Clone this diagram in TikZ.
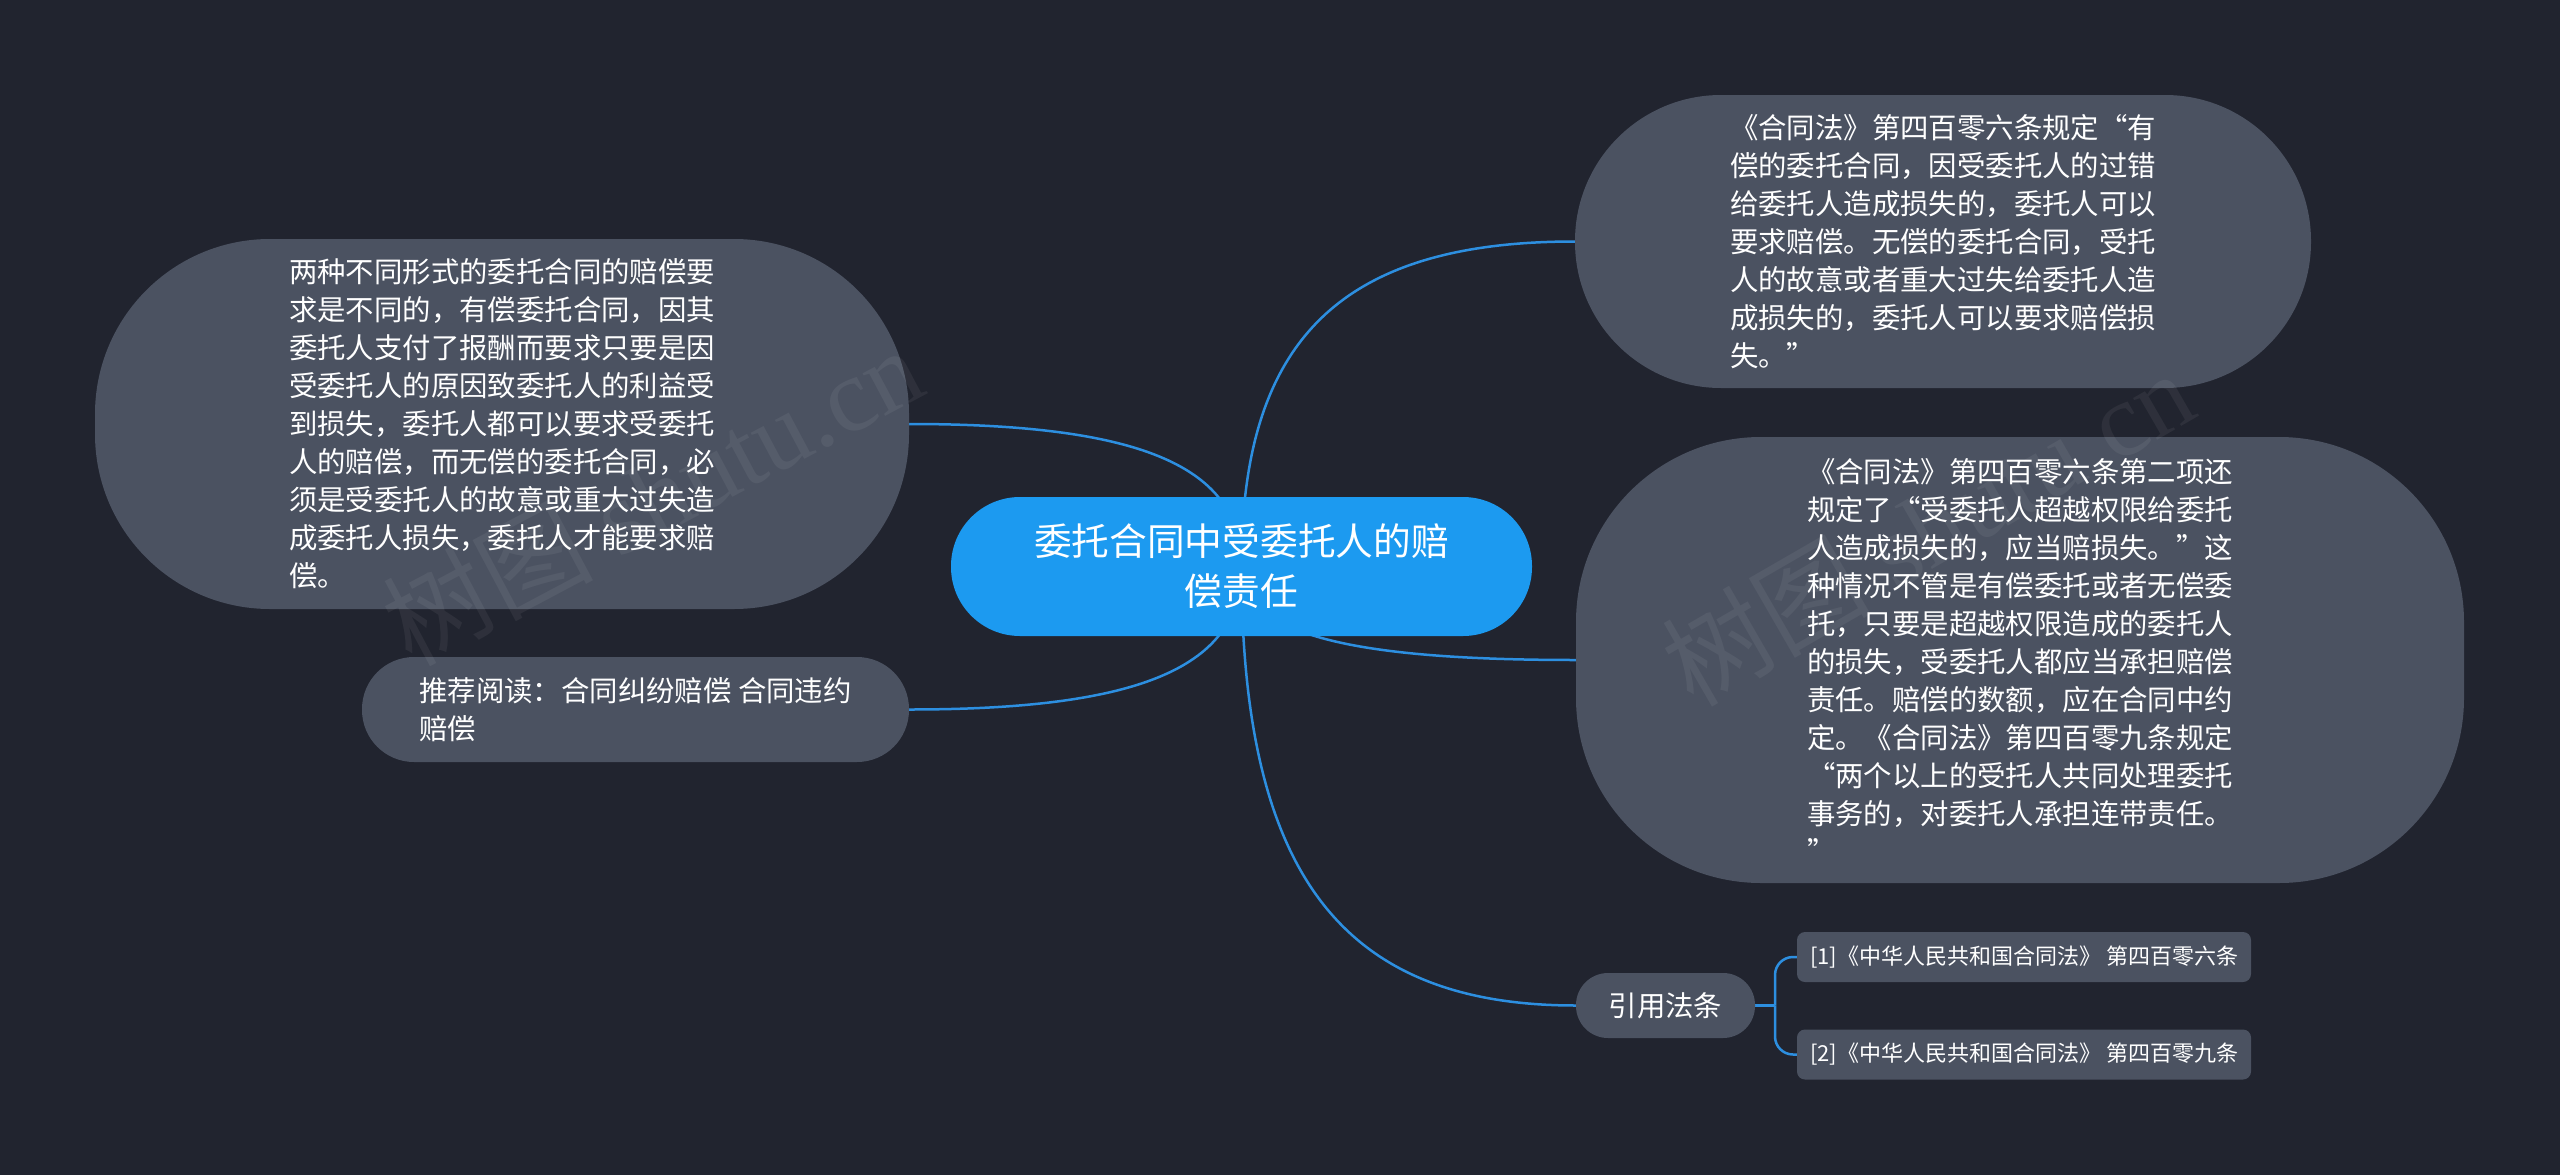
\documentclass[tikz,border=0pt]{standalone}
\usepackage{fontspec}
\setmainfont{Noto Sans CJK SC}
\newfontfamily\wmlatin{Liberation Serif}
\definecolor{bgc}{HTML}{21242F}
\definecolor{nodec}{HTML}{4B5261}
\definecolor{rootc}{HTML}{1C9AF0}
\definecolor{edgec}{HTML}{2D8FE0}
\pgfdeclarelayer{back}
\pgfdeclarelayer{edges}
\pgfsetlayers{back,edges,main}
\newcommand\qo{\makebox[1em][r]{“}}
\newcommand\qc{\makebox[1em][l]{”}}
\begin{document}
\begin{tikzpicture}[x=1pt,y=-1pt,
  box/.style={rectangle, fill=nodec, text=white, inner sep=0pt},
  bigtext/.style={box, font=\fontsize{28.4}{38}\selectfont, align=left},
  leaf/.style={box, font=\fontsize{22}{26}\selectfont, rounded corners=8pt, minimum width=454pt, minimum height=50pt},
  edge/.style={draw=edgec, line width=2.5pt},
  wm/.style={text=white, opacity=0.06, font=\fontsize{105}{105}\selectfont}]
\useasboundingbox (0,0) rectangle (2560,1175);
\begin{pgfonlayer}{back}
\fill[bgc] (0,0) rectangle (2560,1175);
\end{pgfonlayer}

\node[box, fill=rootc, rounded corners=69pt, minimum width=581pt, minimum height=139pt,
      font=\fontsize{37.7}{50}\selectfont, align=center] (root) at (1241.5,566.5)
  {委托合同中受委托人的赔\\偿责任};

\node[bigtext, rounded corners=146pt, minimum width=736pt, minimum height=293pt] (n1) at (1943,241.5)
  {《合同法》第四百零六条规定\qo 有\\
   偿的委托合同，因受委托人的过错\\
   给委托人造成损失的，委托人可以\\
   要求赔偿。无偿的委托合同，受托\\
   人的故意或者重大过失给委托人造\\
   成损失的，委托人可以要求赔偿损\\
   失。\qc};

\node[bigtext, rounded corners=175pt, minimum width=814pt, minimum height=370pt] (n2) at (502,424)
  {两种不同形式的委托合同的赔偿要\\
   求是不同的，有偿委托合同，因其\\
   委托人支付了报酬而要求只要是因\\
   受委托人的原因致委托人的利益受\\
   到损失，委托人都可以要求受委托\\
   人的赔偿，而无偿的委托合同，必\\
   须是受委托人的故意或重大过失造\\
   成委托人损失，委托人才能要求赔\\
   偿。};

\node[bigtext, rounded corners=185pt, minimum width=888pt, minimum height=446pt] (n3) at (2020,660)
  {《合同法》第四百零六条第二项还\\
   规定了\qo 受委托人超越权限给委托\\
   人造成损失的，应当赔损失。\qc 这\\
   种情况不管是有偿委托或者无偿委\\
   托，只要是超越权限造成的委托人\\
   的损失，受委托人都应当承担赔偿\\
   责任。赔偿的数额，应在合同中约\\
   定。《合同法》第四百零九条规定\\
   \qo 两个以上的受托人共同处理委托\\
   事务的，对委托人承担连带责任。\\
   \qc};

\node[bigtext, rounded corners=52pt, minimum width=547pt, minimum height=105pt] (n4) at (635.5,709.5)
  {推荐阅读：合同纠纷赔偿 合同违约\\赔偿};

\node[box, font=\fontsize{28.4}{38}\selectfont, rounded corners=32pt, minimum width=179pt, minimum height=65pt] (yy) at (1665.5,1005.5)
  {引用法条};

\node[leaf] (c1) at (2024,957) {[1]《中华人民共和国合同法》 第四百零六条};
\node[leaf] (c2) at (2024,1054.5) {[2]《中华人民共和国合同法》 第四百零九条};

\coordinate (j) at (1775,1005.5);

\begin{pgfonlayer}{edges}
\draw[edge] (root.center) .. controls (1241.5,339) and (1341.6,241.5) .. (n1.west);
\draw[edge] (root.center) .. controls (1241.5,632) and (1341.8,660) .. (n3.west);
\draw[edge] (root.center) .. controls (1241.5,873.8) and (1341.8,1005.5) .. (yy.west);
\draw[edge] (root.center) .. controls (1241.5,466.75) and (1141.75,424) .. (n2.east);
\draw[edge] (root.center) .. controls (1241.5,666.6) and (1141.75,709.5) .. (n4.east);
\draw[edge] (yy.east) -- (j);
\draw[edge, rounded corners=18pt] (j) |- (c1.west);
\draw[edge, rounded corners=18pt] (j) |- (c2.west);
\end{pgfonlayer}

\node[wm, rotate=28] (wm1) at (652,495) {树图 {\wmlatin shutu.cn}};
\node[wm, rotate=30] (wm2) at (1927,527) {树图 {\wmlatin shutu.cn}};
\end{tikzpicture}
\end{document}
